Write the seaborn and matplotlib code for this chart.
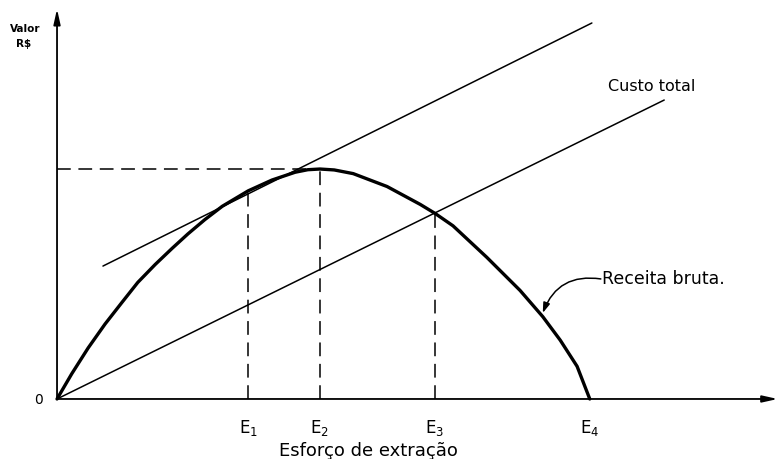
import numpy as np
import pandas as pd
import matplotlib
matplotlib.use("Agg")
import matplotlib.pyplot as plt
import seaborn as sns

# Revenue curve (receita bruta)
effort = [0.0, 0.28, 0.59, 0.91, 1.23, 1.53, 1.86, 2.18, 2.48, 2.80, 3.13, 3.62, 4.07,
          4.51, 4.75, 4.98, 5.25, 5.61, 6.25, 6.88, 7.16, 7.50, 8.14, 8.77, 9.20, 9.53,
          9.85, 10.09]
revenue = [0.0, 1.10, 2.22, 3.26, 4.20, 5.07, 5.85, 6.55, 7.18, 7.80, 8.38, 9.05, 9.52,
           9.86, 9.97, 10.0, 9.96, 9.80, 9.24, 8.46, 8.07, 7.53, 6.16, 4.72, 3.58, 2.56,
           1.42, 0.0]

# Total cost line and the parallel tangent line
cost_effort = [0.0, 11.5]
cost_value = [0.0, 13.0]
tangent_effort = [0.87, 10.13]
tangent_value = [5.78, 16.35]

# Marked effort levels and the revenue value at each one
e_names = ["E$_1$", "E$_2$", "E$_3$", "E$_4$"]
e_effort = [3.62, 4.98, 7.16, 10.09]
e_value = [9.02, 10.0, 8.07, 0.0]

x_end, y_end = 13.65, 16.96

sns.set_style("white")
plt.rcParams["text.color"] = "black"

fig = plt.figure(figsize=(7.83, 4.59), dpi=100)
ax = fig.add_axes([0, 0, 1, 1])
ax.set_xlim(-1.08, 13.75)
ax.set_ylim(-2.61, 17.35)
ax.axis("off")

rev = pd.DataFrame({"esforco": effort, "receita": revenue})
sns.lineplot(data=rev, x="esforco", y="receita", ax=ax, color="black", lw=2.4,
             sort=False, solid_joinstyle="round", solid_capstyle="round")
sns.lineplot(x=cost_effort, y=cost_value, ax=ax, color="black", lw=1.1)
sns.lineplot(x=tangent_effort, y=tangent_value, ax=ax, color="black", lw=1.1)

# dashed guides
dash = dict(color="black", lw=1.1, dashes=(9, 5))
for ex, ev in zip(e_effort[:3], e_value[:3]):
    ax.plot([ex, ex], [0, ev], **dash)
ax.plot([0, e_effort[1]], [e_value[1], e_value[1]], **dash)

# axes with arrows
arrow = dict(arrowstyle="-|>,head_length=0.9,head_width=0.2", color="black", lw=1.3,
             shrinkA=0, shrinkB=0)
ax.annotate("", xy=(x_end, 0), xytext=(0, 0), arrowprops=arrow)
ax.annotate("", xy=(0, y_end), xytext=(0, 0), arrowprops=arrow)

# labels
ax.text(-0.36, -0.05, "0", ha="center", va="center", fontsize=10, fontweight="medium")
ax.text(-0.61, 16.1, "Valor", ha="center", va="center", fontsize=7.5, fontweight="bold")
ax.text(-0.63, 15.45, "R$", ha="center", va="center", fontsize=7.5, fontweight="bold")
for name, ex in zip(e_names, e_effort):
    ax.text(ex, -1.26, name, ha="center", va="center", fontsize=12)
ax.text(5.9, -2.26, "Esforço de extração", ha="center", va="center", fontsize=13)
ax.text(11.27, 13.57, "Custo total", ha="center", va="center", fontsize=11.5)
ax.text(10.32, 5.22, "Receita bruta.", ha="left", va="center", fontsize=12.5)
ax.annotate("", xy=(9.20, 3.74), xytext=(10.30, 5.22),
            arrowprops=dict(arrowstyle="-|>,head_length=0.6,head_width=0.2", color="black",
                            lw=1.1, shrinkA=0, shrinkB=0,
                            connectionstyle="arc3,rad=0.4"))

fig.savefig("out.png", dpi=100)
